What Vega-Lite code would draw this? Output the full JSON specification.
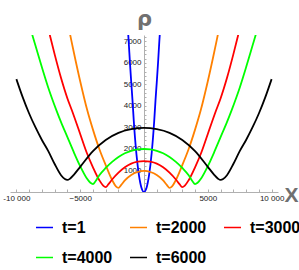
{
  "$schema": "https://vega.github.io/schema/vega-lite/v6.json",
  "width": 268,
  "height": 157,
  "autosize": {"type": "none"},
  "padding": {"left": 10, "top": 35, "right": 21, "bottom": 78},
  "background": "white",
  "config": {"view": {"stroke": null}},
  "data": {"values": [
    {"t":"t=1","x":-1300,"rho":7900},{"t":"t=1","x":-1200,"rho":7000},{"t":"t=1","x":-1100,"rho":6000},{"t":"t=1","x":-1000,"rho":5100},{"t":"t=1","x":-900,"rho":4250},{"t":"t=1","x":-800,"rho":3300},{"t":"t=1","x":-600,"rho":1800},{"t":"t=1","x":-400,"rho":800},{"t":"t=1","x":-200,"rho":200},{"t":"t=1","x":0,"rho":0},{"t":"t=1","x":200,"rho":200},{"t":"t=1","x":400,"rho":800},{"t":"t=1","x":600,"rho":1800},{"t":"t=1","x":800,"rho":3300},{"t":"t=1","x":900,"rho":4250},{"t":"t=1","x":1000,"rho":5100},{"t":"t=1","x":1100,"rho":6000},{"t":"t=1","x":1200,"rho":7000},{"t":"t=1","x":1300,"rho":7900},

    {"t":"t=2000","x":-6100,"rho":8200},{"t":"t=2000","x":-5800,"rho":7350},{"t":"t=2000","x":-5500,"rho":6500},{"t":"t=2000","x":-5000,"rho":5150},{"t":"t=2000","x":-4450,"rho":3810},{"t":"t=2000","x":-4000,"rho":2900},{"t":"t=2000","x":-3500,"rho":2000},{"t":"t=2000","x":-3000,"rho":1250},{"t":"t=2000","x":-2500,"rho":560},{"t":"t=2000","x":-2200,"rho":260},{"t":"t=2000","x":-2000,"rho":190},{"t":"t=2000","x":-1800,"rho":320},{"t":"t=2000","x":-1500,"rho":540},{"t":"t=2000","x":-1000,"rho":790},{"t":"t=2000","x":-500,"rho":930},{"t":"t=2000","x":0,"rho":980},{"t":"t=2000","x":500,"rho":930},{"t":"t=2000","x":1000,"rho":790},{"t":"t=2000","x":1500,"rho":540},{"t":"t=2000","x":1800,"rho":320},{"t":"t=2000","x":2000,"rho":190},{"t":"t=2000","x":2200,"rho":260},{"t":"t=2000","x":2500,"rho":560},{"t":"t=2000","x":3000,"rho":1250},{"t":"t=2000","x":3500,"rho":2000},{"t":"t=2000","x":4000,"rho":2900},{"t":"t=2000","x":4450,"rho":3810},{"t":"t=2000","x":5000,"rho":5150},{"t":"t=2000","x":5500,"rho":6500},{"t":"t=2000","x":5800,"rho":7350},{"t":"t=2000","x":6100,"rho":8200},

    {"t":"t=3000","x":-7700,"rho":8100},{"t":"t=3000","x":-7380,"rho":7300},{"t":"t=3000","x":-7000,"rho":6400},{"t":"t=3000","x":-6500,"rho":5300},{"t":"t=3000","x":-6000,"rho":4350},{"t":"t=3000","x":-5660,"rho":3810},{"t":"t=3000","x":-5000,"rho":2700},{"t":"t=3000","x":-4500,"rho":1850},{"t":"t=3000","x":-4000,"rho":1150},{"t":"t=3000","x":-3500,"rho":550},{"t":"t=3000","x":-3200,"rho":300},{"t":"t=3000","x":-3000,"rho":230},{"t":"t=3000","x":-2800,"rho":350},{"t":"t=3000","x":-2500,"rho":580},{"t":"t=3000","x":-2000,"rho":900},{"t":"t=3000","x":-1500,"rho":1150},{"t":"t=3000","x":-1000,"rho":1320},{"t":"t=3000","x":-500,"rho":1410},{"t":"t=3000","x":0,"rho":1440},{"t":"t=3000","x":500,"rho":1410},{"t":"t=3000","x":1000,"rho":1320},{"t":"t=3000","x":1500,"rho":1150},{"t":"t=3000","x":2000,"rho":900},{"t":"t=3000","x":2500,"rho":580},{"t":"t=3000","x":2800,"rho":350},{"t":"t=3000","x":3000,"rho":230},{"t":"t=3000","x":3200,"rho":300},{"t":"t=3000","x":3500,"rho":550},{"t":"t=3000","x":4000,"rho":1150},{"t":"t=3000","x":4500,"rho":1850},{"t":"t=3000","x":5000,"rho":2700},{"t":"t=3000","x":5660,"rho":3810},{"t":"t=3000","x":6000,"rho":4350},{"t":"t=3000","x":6500,"rho":5300},{"t":"t=3000","x":7000,"rho":6400},{"t":"t=3000","x":7380,"rho":7300},{"t":"t=3000","x":7700,"rho":8100},

    {"t":"t=4000","x":-9000,"rho":7850},{"t":"t=4000","x":-8750,"rho":7300},{"t":"t=4000","x":-8500,"rho":6800},{"t":"t=4000","x":-8000,"rho":5800},{"t":"t=4000","x":-7500,"rho":4850},{"t":"t=4000","x":-6870,"rho":3810},{"t":"t=4000","x":-6500,"rho":3250},{"t":"t=4000","x":-6000,"rho":2550},{"t":"t=4000","x":-5500,"rho":1850},{"t":"t=4000","x":-5000,"rho":1200},{"t":"t=4000","x":-4500,"rho":650},{"t":"t=4000","x":-4200,"rho":430},{"t":"t=4000","x":-4000,"rho":370},{"t":"t=4000","x":-3800,"rho":500},{"t":"t=4000","x":-3500,"rho":780},{"t":"t=4000","x":-3000,"rho":1120},{"t":"t=4000","x":-2500,"rho":1400},{"t":"t=4000","x":-2000,"rho":1630},{"t":"t=4000","x":-1500,"rho":1800},{"t":"t=4000","x":-1000,"rho":1910},{"t":"t=4000","x":-500,"rho":1980},{"t":"t=4000","x":0,"rho":2000},{"t":"t=4000","x":500,"rho":1980},{"t":"t=4000","x":1000,"rho":1910},{"t":"t=4000","x":1500,"rho":1800},{"t":"t=4000","x":2000,"rho":1630},{"t":"t=4000","x":2500,"rho":1400},{"t":"t=4000","x":3000,"rho":1120},{"t":"t=4000","x":3500,"rho":780},{"t":"t=4000","x":3800,"rho":500},{"t":"t=4000","x":4000,"rho":370},{"t":"t=4000","x":4200,"rho":430},{"t":"t=4000","x":4500,"rho":650},{"t":"t=4000","x":5000,"rho":1200},{"t":"t=4000","x":5500,"rho":1850},{"t":"t=4000","x":6000,"rho":2550},{"t":"t=4000","x":6500,"rho":3250},{"t":"t=4000","x":6870,"rho":3810},{"t":"t=4000","x":7500,"rho":4850},{"t":"t=4000","x":8000,"rho":5800},{"t":"t=4000","x":8500,"rho":6800},{"t":"t=4000","x":8750,"rho":7300},{"t":"t=4000","x":9000,"rho":7850},

    {"t":"t=6000","x":-10000,"rho":5250},{"t":"t=6000","x":-9500,"rho":4400},{"t":"t=6000","x":-9000,"rho":3650},{"t":"t=6000","x":-8500,"rho":3000},{"t":"t=6000","x":-8000,"rho":2420},{"t":"t=6000","x":-7500,"rho":1900},{"t":"t=6000","x":-7000,"rho":1300},{"t":"t=6000","x":-6500,"rho":780},{"t":"t=6000","x":-6200,"rho":600},{"t":"t=6000","x":-6000,"rho":560},{"t":"t=6000","x":-5800,"rho":620},{"t":"t=6000","x":-5500,"rho":800},{"t":"t=6000","x":-5000,"rho":1170},{"t":"t=6000","x":-4000,"rho":1900},{"t":"t=6000","x":-3000,"rho":2420},{"t":"t=6000","x":-2000,"rho":2750},{"t":"t=6000","x":-1000,"rho":2920},{"t":"t=6000","x":0,"rho":2980},{"t":"t=6000","x":1000,"rho":2920},{"t":"t=6000","x":2000,"rho":2750},{"t":"t=6000","x":3000,"rho":2420},{"t":"t=6000","x":4000,"rho":1900},{"t":"t=6000","x":5000,"rho":1170},{"t":"t=6000","x":5500,"rho":800},{"t":"t=6000","x":5800,"rho":620},{"t":"t=6000","x":6000,"rho":560},{"t":"t=6000","x":6200,"rho":600},{"t":"t=6000","x":6500,"rho":780},{"t":"t=6000","x":7000,"rho":1300},{"t":"t=6000","x":7500,"rho":1900},{"t":"t=6000","x":8000,"rho":2420},{"t":"t=6000","x":8500,"rho":3000},{"t":"t=6000","x":9000,"rho":3650},{"t":"t=6000","x":9500,"rho":4400},{"t":"t=6000","x":10000,"rho":5250}
  ]},
  "mark": {"type": "line", "interpolate": "monotone", "strokeWidth": 1.8, "clip": true},
  "encoding": {
    "x": {
      "field": "x", "type": "quantitative",
      "scale": {"domain": [-10500, 10500], "nice": false, "zero": false},
      "axis": {
        "values": [-10000,-9000,-8000,-7000,-6000,-5000,-4000,-3000,-2000,-1000,1000,2000,3000,4000,5000,6000,7000,8000,9000,10000],
        "format": "d",
        "labelExpr": "datum.value === -10000 ? '-10 000' : datum.value === 10000 ? '10 000' : (datum.value % 5000 === 0 ? datum.label : '')",
        "labelOverlap": false, "labelFlush": false,
        "labelFont": "Liberation Sans", "labelFontSize": 8, "labelColor": "#222222",
        "labelPadding": 5,
        "domainColor": "#b0b0b0", "tickColor": "#b0b0b0", "tickSize": -3, "grid": false,
        "title": "X", "titleFont": "Liberation Sans", "titleFontSize": 21, "titleFontWeight": "bold",
        "titleColor": "#707070", "titleX": 281, "titleY": 3, "titleAlign": "center", "titleBaseline": "middle"
      }
    },
    "y": {
      "field": "rho", "type": "quantitative",
      "scale": {"domain": [0, 7300], "nice": false},
      "axis": {
        "orient": "left", "offset": -134,
        "values": [200,400,600,800,1000,1200,1400,1600,1800,2000,2200,2400,2600,2800,3000,3200,3400,3600,3800,4000,4200,4400,4600,4800,5000,5200,5400,5600,5800,6000,6200,6400,6600,6800,7000,7200],
        "format": "d",
        "labelExpr": "datum.value % 1000 === 0 ? datum.label : ''",
        "labelOverlap": false, "labelFlush": false,
        "labelFont": "Liberation Sans", "labelFontSize": 8, "labelColor": "#222222",
        "labelPadding": 5,
        "domainColor": "#b0b0b0", "tickColor": "#b0b0b0", "tickSize": -2, "grid": false,
        "title": "ρ", "titleFont": "DejaVu Sans", "titleFontSize": 21, "titleFontWeight": "bold",
        "titleColor": "#707070", "titleAngle": 0, "titleX": 0, "titleY": -16, "titleAlign": "center", "titleBaseline": "middle"
      }
    },
    "color": {
      "field": "t", "type": "nominal",
      "scale": {"domain": ["t=1","t=2000","t=3000","t=4000","t=6000"], "range": ["#0000ff","#ff8000","#ff0000","#00ff00","#000000"]},
      "legend": {
        "orient": "none", "legendX": 25, "legendY": 183, "direction": "horizontal", "columns": 3,
        "gridAlign": "none", "title": null, "padding": 0,
        "symbolType": "stroke", "symbolSize": 289, "symbolStrokeWidth": 1.5,
        "labelFont": "Liberation Sans", "labelFontSize": 16, "labelFontWeight": "bold", "labelColor": "#000000",
        "labelOffset": 8, "columnPadding": 14, "rowPadding": 12
      }
    }
  }
}
